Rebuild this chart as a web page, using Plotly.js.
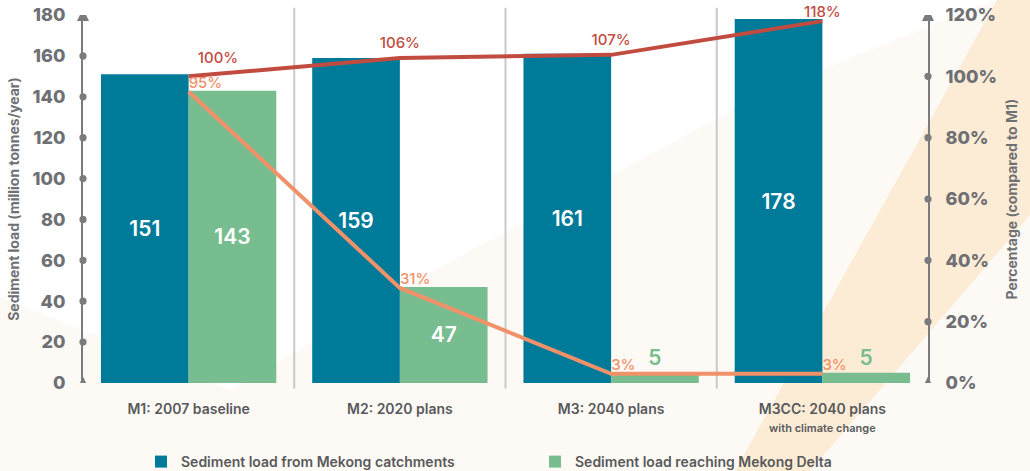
<!DOCTYPE html>
<html>
<head>
<meta charset="utf-8">
<script src="https://cdn.plot.ly/plotly-3.0.1.min.js"></script>
<style>
  html, body { margin: 0; padding: 0; background: #fdfaf5; }
  #chart { width: 1030px; height: 471px; }
</style>
</head>
<body>
<div id="chart"></div>
<script>
// ---- data ----
const categories = ['M1', 'M2', 'M3', 'M3CC'];
const tickLabels = [
  'M1: 2007 baseline',
  'M2: 2020 plans',
  'M3: 2040 plans',
  'M3CC: 2040 plans<br><span style="font-size:11px">with climate change</span>'
];
const loadCatchments = [151, 159, 161, 178];
const loadDelta = [143, 47, 5, 5];
const pctCatchments = [100, 106, 107, 118];
const pctDelta = [95, 31, 3, 3];
const leftTicks = [0, 20, 40, 60, 80, 100, 120, 140, 160, 180];
const rightTicks = [0, 20, 40, 60, 80, 100, 120];
const rightTickText = rightTicks.map(v => v + '%');

// ---- style ----
const TEAL = '#007a99';
const GREEN = '#78bd8f';
const RED = '#c24b40';
const ORANGE = '#f1916a';
const AXIS = '#7a7b7f';
const TXT = '#58595b';
const TICK = '#6f7074';
const FONT = 'Inter, Lato, sans-serif';

const M = {l: 83, r: 102, t: 15, b: 88, autoexpand: false};
const W = 1030, H = 471;
const pw = W - M.l - M.r, ph = H - M.t - M.b;
const px2x = p => (p - M.l) / pw;
const py2y = p => (H - M.b - p) / ph;

const barText = v => String(v);
const barPos = v => (v < 20 ? 'outside' : 'inside');

const traces = [
  {
    type: 'bar', name: 'Sediment load from Mekong catchments',
    x: categories, y: loadCatchments,
    marker: {color: TEAL},
    text: loadCatchments.map(barText),
    textposition: loadCatchments.map(barPos),
    insidetextanchor: 'middle',
    textangle: 0, constraintext: 'none',
    insidetextfont: {family: FONT, size: 21, color: '#ffffff', weight: 600},
    outsidetextfont: {family: FONT, size: 21, color: GREEN, weight: 600},
    cliponaxis: false
  },
  {
    type: 'bar', name: 'Sediment load reaching Mekong Delta',
    x: categories, y: loadDelta,
    marker: {color: GREEN},
    text: loadDelta.map(barText),
    textposition: loadDelta.map(barPos),
    insidetextanchor: 'middle',
    textangle: 0, constraintext: 'none',
    insidetextfont: {family: FONT, size: 21, color: '#ffffff', weight: 600},
    outsidetextfont: {family: FONT, size: 21, color: GREEN, weight: 600},
    cliponaxis: false
  },
  {
    type: 'scatter', mode: 'lines+markers+text', name: 'Catchment load (% of M1)',
    x: categories, y: pctCatchments, yaxis: 'y2',
    line: {color: RED, width: 4},
    // invisible markers only used to space the labels above the line
    marker: {size: [13, 8, 8, 0], color: RED, opacity: 0},
    text: pctCatchments.map(v => v + '%'),
    textposition: ['top right', 'top center', 'top center', 'top center'],
    textfont: {family: FONT, size: 15, color: RED, weight: 500},
    showlegend: false, cliponaxis: false
  },
  {
    type: 'scatter', mode: 'lines+text', name: 'Delta load (% of M1)',
    x: categories, y: pctDelta, yaxis: 'y2',
    line: {color: ORANGE, width: 4},
    text: pctDelta.map(v => v + '%'),
    textposition: 'top right',
    textfont: {family: FONT, size: 15, color: ORANGE, weight: 500},
    showlegend: false, cliponaxis: false
  }
];

// ---- shapes ----
const shapes = [];
const poly = pts => 'M' + pts.map(p => px2x(p[0]).toFixed(4) + ',' + py2y(p[1]).toFixed(4)).join(' L') + ' Z';
shapes.push({type: 'path', xref: 'paper', yref: 'paper', layer: 'below',
  path: poly([[0, 0], [995, 0], [770, 90], [450, 262], [230, 390], [0, 297]]),
  fillcolor: '#ffffff', line: {width: 0}});
shapes.push({type: 'path', xref: 'paper', yref: 'paper', layer: 'below',
  path: poly([[997, 0], [1030, 0], [1030, 215], [810, 471], [735, 471]]),
  fillcolor: '#fcecd6', line: {width: 0}});
for (let i = 0; i < categories.length - 1; i++) {
  shapes.push({type: 'line', xref: 'x', yref: 'paper', x0: i + 0.5, x1: i + 0.5, y0: -0.015, y1: 1.02,
    line: {color: '#c9c9cb', width: 2}, layer: 'below'});
}
function axisMarks(ticks, yref, xanchor) {
  ticks.forEach((t, i) => {
    if (i === 0 || i === ticks.length - 1) {
      shapes.push({type: 'path', xref: 'paper', yref: yref, xsizemode: 'pixel', ysizemode: 'pixel',
        xanchor: xanchor, yanchor: t, path: 'M-6,-6 L6,-6 L0,6.5 Z',
        fillcolor: AXIS, line: {width: 0}});
    } else {
      shapes.push({type: 'circle', xref: 'paper', yref: yref, xsizemode: 'pixel', ysizemode: 'pixel',
        xanchor: xanchor, yanchor: t, x0: -3.6, x1: 3.6, y0: -3.6, y1: 3.6,
        fillcolor: AXIS, line: {width: 0}});
    }
  });
}
axisMarks(leftTicks, 'y', 0);
axisMarks(rightTicks, 'y2', 1);

const layout = {
  width: W, height: H,
  margin: M,
  paper_bgcolor: '#fdfaf5',
  plot_bgcolor: 'rgba(0,0,0,0)',
  barmode: 'group', bargap: 0.17, bargroupgap: 0,
  font: {family: FONT, color: TXT},
  xaxis: {
    type: 'category', range: [-0.5, 3.5], automargin: false,
    tickvals: categories, ticktext: tickLabels,
    showline: false, ticks: '', showgrid: false, zeroline: false,
    tickfont: {family: FONT, size: 14, color: TXT, weight: 600},
    ticklabelstandoff: 16
  },
  yaxis: {
    range: [0, 180], tickvals: leftTicks, automargin: false,
    showline: true, linecolor: AXIS, linewidth: 2,
    ticks: '', showgrid: false, zeroline: false,
    tickfont: {family: FONT, size: 18, color: TICK, weight: 800},
    ticklabelstandoff: 12,
    title: {text: 'Sediment load (million tonnes/year)', standoff: 10,
      font: {family: FONT, size: 14, color: TICK, weight: 700}}
  },
  yaxis2: {
    overlaying: 'y', side: 'right', range: [0, 120], automargin: false,
    tickmode: 'array', tickvals: rightTicks, ticktext: rightTickText,
    showline: true, linecolor: AXIS, linewidth: 2,
    ticks: '', showgrid: false, zeroline: false,
    tickfont: {family: FONT, size: 18, color: TICK, weight: 800},
    ticklabelstandoff: 12,
    title: {text: 'Percentage (compared to M1)', standoff: 11,
      font: {family: FONT, size: 14, color: TICK, weight: 700}}
  },
  showlegend: true,
  legend: {
    orientation: 'h', x: px2x(929), xanchor: 'right', y: py2y(446), yanchor: 'top',
    entrywidth: 349, entrywidthmode: 'pixels',
    font: {family: FONT, size: 14, color: TXT, weight: 600},
    bgcolor: 'rgba(0,0,0,0)'
  },
  shapes: shapes
};

Plotly.newPlot('chart', traces, layout, {displayModeBar: false, staticPlot: true});
</script>
</body>
</html>
